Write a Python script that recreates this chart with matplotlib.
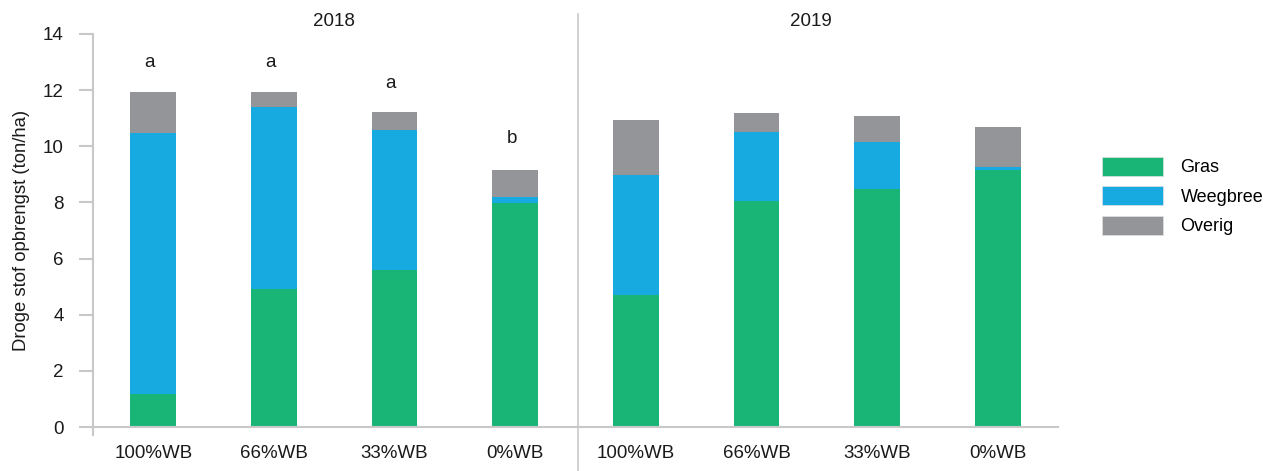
import matplotlib
matplotlib.use("Agg")
import matplotlib.pyplot as plt
from matplotlib.patches import Patch
from matplotlib.lines import Line2D
import numpy as np

plt.rcParams['font.family'] = ['Liberation Sans', 'DejaVu Sans']

categories = ["100%WB", "66%WB", "33%WB", "0%WB", "100%WB", "66%WB", "33%WB", "0%WB"]
years = ["2018", "2019"]
gras = [1.18, 4.92, 5.60, 7.99, 4.70, 8.05, 8.48, 9.16]
weegbree = [9.29, 6.48, 4.98, 0.20, 4.28, 2.46, 1.67, 0.10]
overig = [1.46, 0.53, 0.64, 0.97, 1.96, 0.68, 0.93, 1.43]
letters = ["a", "a", "a", "b"]
letter_y = [12.97, 12.97, 12.25, 10.26]

c_gras = "#19B577"
c_wb = "#16AAE1"
c_ov = "#939598"
c_axis = "#C8C8C8"
c_txt = "#1a1a1a"

fig = plt.figure(figsize=(12.65, 4.71), dpi=100)
ax = fig.add_axes([93/1265, 1-427/471, (1058-93)/1265, (427-34)/471])

x = np.arange(len(categories))
w = 0.38
g = np.array(gras); b = np.array(weegbree); o = np.array(overig)
ax.bar(x, g, w, color=c_gras, label="Gras")
ax.bar(x, b, w, bottom=g, color=c_wb, label="Weegbree")
ax.bar(x, o, w, bottom=g + b, color=c_ov, label="Overig")

ax.set_xlim(-0.5, 7.5)
ax.set_ylim(0, 14)
ax.set_yticks(np.arange(0, 15, 2))
ax.set_xticks(x)
ax.set_xticklabels(categories)

for s in ["top", "right", "left"]:
    ax.spines[s].set_visible(False)
ax.spines["bottom"].set_color(c_axis)
ax.spines["bottom"].set_linewidth(1.5)

ax.tick_params(axis="y", length=10, width=1.5, color=c_axis, pad=11, labelsize=13.5, labelcolor=c_txt)
ax.tick_params(axis="x", length=0, pad=13, labelsize=13.5, labelcolor=c_txt)

# left axis line extending slightly below zero
ax.add_line(Line2D([-0.5, -0.5], [-0.3, 14], color=c_axis, lw=1.5, clip_on=False))

# divider between years
fig.add_artist(Line2D([578/1265, 578/1265], [0, 1 - 14/471], color=c_axis, lw=1.2))

ax.set_ylabel("Droge stof opbrengst (ton/ha)", fontsize=13.3, color=c_txt, labelpad=9)

# year labels
ax.text(1.5, 14.46, years[0], ha="center", va="center", fontsize=13.5, color=c_txt, clip_on=False)
ax.text(5.45, 14.46, years[1], ha="center", va="center", fontsize=13.5, color=c_txt, clip_on=False)

for i, (lt, ly) in enumerate(zip(letters, letter_y)):
    ax.text(x[i] - 0.03, ly, lt, ha="center", va="center", fontsize=13.5, color=c_txt)

handles = [Patch(facecolor=c_gras, edgecolor="#e0e0e0", lw=0.5),
           Patch(facecolor=c_wb, edgecolor="#e0e0e0", lw=0.5),
           Patch(facecolor=c_ov, edgecolor="#e0e0e0", lw=0.5)]
fig.legend(handles, ["Gras", "Weegbree", "Overig"], loc="center left",
           bbox_to_anchor=(1102/1265, 1 - 196/471), frameon=False, fontsize=13,
           borderpad=0, borderaxespad=0,
           handlelength=3.4, handleheight=1.25, handletextpad=0.95, labelspacing=0.55)

fig.savefig("out.png", dpi=100)
